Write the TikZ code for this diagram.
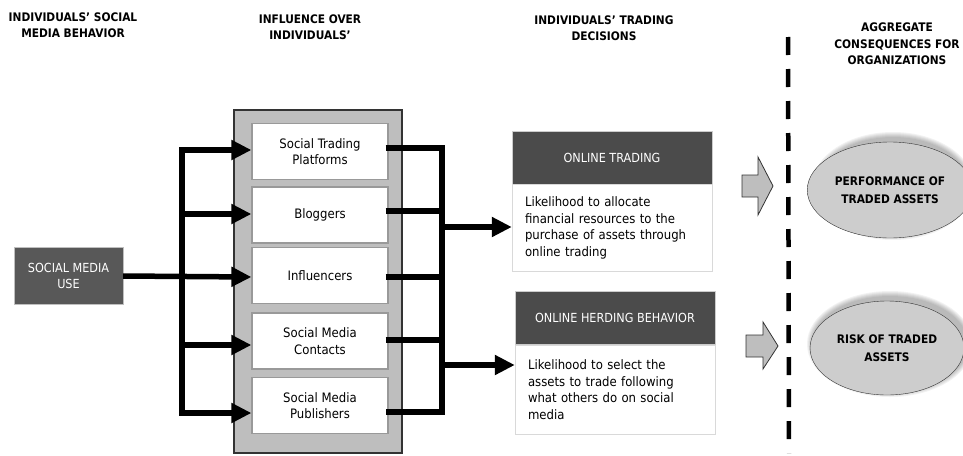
\documentclass[tikz,border=0pt]{standalone}
\usepackage{fontspec}
\setmainfont{DejaVuSansCondensed}[Extension=.ttf, BoldFont=DejaVuSansCondensed-Bold]
\usepackage{xcolor}
\usetikzlibrary{arrows.meta,positioning,shapes.geometric}

\definecolor{headfill}{HTML}{4B4B4B}
\definecolor{usefill}{HTML}{585858}
\definecolor{panelfill}{HTML}{BEBEBE}
\definecolor{ovalfill}{HTML}{CDCDCD}

\begin{document}
\begin{tikzpicture}[x=1pt,y=-1pt,
    font=\fontsize{13}{16.5}\selectfont,
    title/.style={font=\fontsize{11.8}{16.5}\selectfont\bfseries, align=center},
    item/.style={draw=gray!80, fill=white, line width=1.2pt, minimum width=136pt,
      minimum height=56pt, align=center},
    header/.style={draw=gray!40, fill=headfill, text=white, minimum width=200pt,
      minimum height=53pt, font=\fontsize{12.5}{15}\selectfont},
    detail/.style={draw=gray!30, fill=white, minimum width=200pt, text width=174pt,
      align=left, inner xsep=13pt},
    oval/.style={ellipse, draw=black!80, fill=ovalfill, align=center,
      font=\fontsize{11.8}{17.5}\selectfont\bfseries},
    wire/.style={line width=5.5pt},
    feed/.style={wire, -{Triangle[length=20pt,width=19pt]}},
    blockarrow/.style={draw=black!80, fill=panelfill, line width=0.8pt}]
  \useasboundingbox (0,0) rectangle (963,455);

  % Column titles
  \node[title] (t1) at (73,25) {INDIVIDUALS’ SOCIAL\\MEDIA BEHAVIOR};
  \node[title] (t2) at (310,27) {INFLUENCE OVER\\INDIVIDUALS’};
  \node[title] (t3) at (604,28) {INDIVIDUALS’ TRADING\\DECISIONS};
  \node[title] (t4) at (897,44) {AGGREGATE\\CONSEQUENCES FOR\\ORGANIZATIONS};

  % Social media use
  \node[draw=gray!50, fill=usefill, text=white, align=center, minimum width=109pt,
    minimum height=57pt, font=\fontsize{12.5}{16.5}\selectfont] (use) at (68.5,276)
    {SOCIAL MEDIA\\USE};

  % Panel with the sources of influence
  \node[draw=black!80, fill=panelfill, line width=1.2pt, minimum width=168pt,
    minimum height=343pt] (panel) at (318,281.5) {};
  \node[item] (stp)  at (320,151.5) {Social Trading\\Platforms};
  \node[item] (blog) at (320,215)   {Bloggers};
  \node[item] (infl) at (320,275.5) {Influencers};
  \node[item] (smc)  at (320,341)   {Social Media\\Contacts};
  \node[item] (smp)  at (320,405.5) {Social Media\\Publishers};

  % Trading decisions
  \node[header] (ot) at (612,157.5) {ONLINE TRADING};
  \node[detail, minimum height=87pt, below=0pt of ot] (otbody)
    {Likelihood to allocate\\financial resources to the\\purchase of assets through\\online trading};
  \node[header] (ohb) at (615,318) {ONLINE HERDING BEHAVIOR};
  \node[detail, minimum height=89pt, below=0pt of ohb] (ohbbody)
    {Likelihood to select the\\assets to trade following\\what others do on social\\media};

  % Left bus into the panel
  \draw[feed] (use.east) -- (infl.west |- 0,277);
  \draw[feed] (182,413) -- (182,150) -- (stp.west |- 0,150);
  \draw[feed] (182,150) -- (182,413) -- (smp.west |- 0,413);
  \draw[feed] (182,214) -- (blog.west |- 0,214);
  \draw[feed] (182,345) -- (smc.west |- 0,345);

  % Right bus out of the panel
  \draw[wire] ([xshift=-3pt]stp.east |- 0,148) -- (442,148) -- (442,412)
    -- ([xshift=-3pt]smp.east |- 0,412);
  \draw[wire] ([xshift=-3pt]blog.east |- 0,211) -- (442,211);
  \draw[wire] ([xshift=-3pt]infl.east |- 0,277) -- (442,277);
  \draw[wire] ([xshift=-3pt]smc.east |- 0,340) -- (442,340);
  \draw[feed] (442,227) -- (otbody.west |- 0,227);
  \draw[feed] (442,365) -- (ohbbody.west |- 0,365);

  % Block arrows
  \draw[blockarrow] (742,175) -- (758,175) -- (758,157) -- (773,186) -- (758,215)
    -- (758,197) -- (742,197) -- cycle;
  \draw[blockarrow] (746,335) -- (763,335) -- (763,322) -- (778,346) -- (763,369)
    -- (763,357) -- (746,357) -- cycle;

  % Separator
  \draw[line width=4.5pt, dash pattern=on 18pt off 14pt] (788,37) -- (789,453);

  % Consequences
  \foreach \r in {1,...,6}
    \fill[black, opacity=0.05] (893,186) ellipse ({75+\r} and {48+\r});
  \node[oval, minimum width=150pt, minimum height=96pt] (perf) at (890,190)
    {PERFORMANCE OF\\TRADED ASSETS};
  \foreach \r in {1,...,6}
    \fill[black, opacity=0.05] (890,344) ellipse ({77+\r} and {47+\r});
  \node[oval, minimum width=154pt, minimum height=94pt] (risk) at (887,348)
    {RISK OF TRADED\\ASSETS};
\end{tikzpicture}
\end{document}
